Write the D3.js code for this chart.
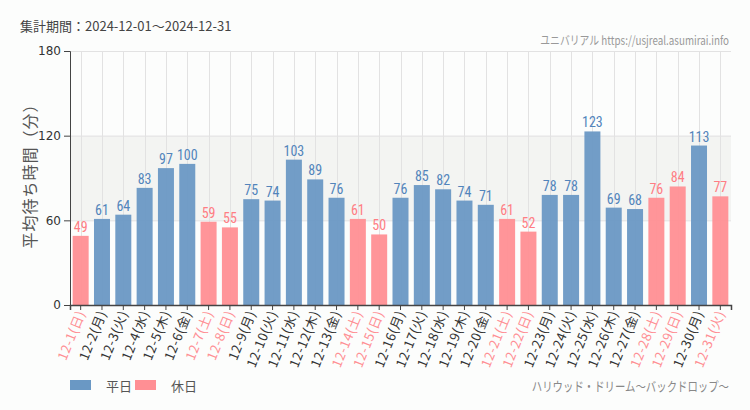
<!DOCTYPE html>
<html><head><meta charset="utf-8">
<script src="https://cdn.jsdelivr.net/npm/d3@7"></script>
<style>
body{margin:0;background:#fcfdfc;}
svg{display:block;}
</style></head><body>
<svg id="c" width="750" height="410"></svg>
<script>
const categories = ["12-1(日)","12-2(月)","12-3(火)","12-4(水)","12-5(木)","12-6(金)","12-7(土)","12-8(日)","12-9(月)","12-10(火)","12-11(水)","12-12(木)","12-13(金)","12-14(土)","12-15(日)","12-16(月)","12-17(火)","12-18(水)","12-19(木)","12-20(金)","12-21(土)","12-22(日)","12-23(月)","12-24(火)","12-25(水)","12-26(木)","12-27(金)","12-28(土)","12-29(日)","12-30(月)","12-31(火)"];
const values = [49,61,64,83,97,100,59,55,75,74,103,89,76,61,50,76,85,82,74,71,61,52,78,78,123,69,68,76,84,113,77];
const holiday = [1,0,0,0,0,0,1,1,0,0,0,0,0,1,1,0,0,0,0,0,1,1,0,0,0,0,0,1,1,0,1];
const yTicks = [0,60,120,180];
const legendLabels = ["平日","休日"];

const colBar = ["#6a98c4","#ff8f94"];
const colTxt = ["#5284bb","#ff7d84"];
const narrow = "'Liberation Sans Narrow','Roboto Condensed','DejaVu Sans Condensed',sans-serif";
const jp = "'Noto Sans CJK JP','Noto Sans',sans-serif";

const svg = d3.select("#c");
const L=70, R=731, T=51, B=305;
const x = d3.scaleBand().domain(categories).range([L,R]).paddingInner(0.25).paddingOuter(0.125);
const y = d3.scaleLinear().domain([0,180]).range([B,T]);

svg.append("rect").attr("x",L).attr("width",R-L).attr("y",y(120)).attr("height",y(60)-y(120)).attr("fill","#f3f4f2");

svg.append("g").selectAll("line").data(yTicks.slice(1)).join("line")
  .attr("x1",L).attr("x2",R).attr("y1",d=>y(d)+0.5).attr("y2",d=>y(d)+0.5)
  .attr("stroke","#e2e2e2");
svg.append("g").selectAll("line").data(categories).join("line")
  .attr("x1",d=>Math.round(x(d)+x.bandwidth()/2)+0.5).attr("x2",d=>Math.round(x(d)+x.bandwidth()/2)+0.5)
  .attr("y1",T).attr("y2",B).attr("stroke","#e2e2e2");

svg.append("g").selectAll("rect").data(values).join("rect")
  .attr("x",(d,i)=>x(categories[i])).attr("width",x.bandwidth())
  .attr("y",d=>y(d)).attr("height",d=>B-y(d))
  .attr("fill",(d,i)=>colBar[holiday[i]]).attr("fill-opacity",0.95);

svg.append("g").selectAll("text").data(values).join("text")
  .attr("x",(d,i)=>x(categories[i])+x.bandwidth()/2).attr("y",d=>y(d)-4)
  .attr("text-anchor","middle").attr("font-family",narrow).attr("font-size",14)
  .attr("fill",(d,i)=>colTxt[holiday[i]]).text(d=>d);

const ya = svg.append("g").attr("transform",`translate(${L},0)`)
  .call(d3.axisLeft(y).tickValues(yTicks).tickSize(6).tickPadding(3));
ya.select(".domain").attr("stroke","#444");
ya.selectAll(".tick line").attr("stroke","#444");
ya.selectAll("text").attr("font-family","'DejaVu Sans',sans-serif").attr("font-size",12).attr("fill","#333");

const xa = svg.append("g").attr("transform",`translate(0,${B})`)
  .call(d3.axisBottom(x).tickSizeOuter(0).tickSize(5));
xa.select(".domain").attr("stroke","#444").attr("stroke-width",1.5);
xa.selectAll(".tick line").attr("stroke","#444");
xa.selectAll(".tick text")
  .attr("font-family",jp).attr("font-size",13).attr("letter-spacing","0.6px")
  .attr("fill",(d,i)=>holiday[i]?"#ff8f94":"#333")
  .attr("text-anchor","end").attr("dx","0.3em").attr("dy","0.35em")
  .attr("transform","translate(0,8) rotate(-68)").attr("y",0).attr("x",-2);

svg.append("text").attr("transform","translate(36,172) rotate(-90)")
  .attr("text-anchor","middle").attr("font-family",jp).attr("font-size",16).attr("fill","#555")
  .attr("letter-spacing","1px")
  .text("平均待ち時間（分）");

svg.append("text").attr("x",20).attr("y",31).attr("font-family",jp).attr("font-size",13).attr("fill","#444")
  .text("集計期間：2024-12-01～2024-12-31");
svg.append("text").attr("transform","translate(729,45) scale(0.82,1)").attr("text-anchor","end")
  .attr("font-family",jp).attr("font-size",12).attr("fill","#999")
  .text("ユニバリアル  https://usjreal.asumirai.info");

const lg = svg.append("g").attr("transform","translate(70,380)");
legendLabels.forEach((t,i)=>{
  lg.append("rect").attr("x",i*65).attr("y",0).attr("width",21).attr("height",10).attr("fill",colBar[i]);
  lg.append("text").attr("x",i*65+36).attr("y",10.5).attr("font-family",jp).attr("font-size",13).attr("fill","#555").text(t);
});
svg.append("text").attr("transform","translate(729,391) scale(0.8,1)").attr("text-anchor","end")
  .attr("font-family",jp).attr("font-size",13).attr("fill","#888")
  .text("ハリウッド・ドリーム～バックドロップ～");
</script></body></html>
